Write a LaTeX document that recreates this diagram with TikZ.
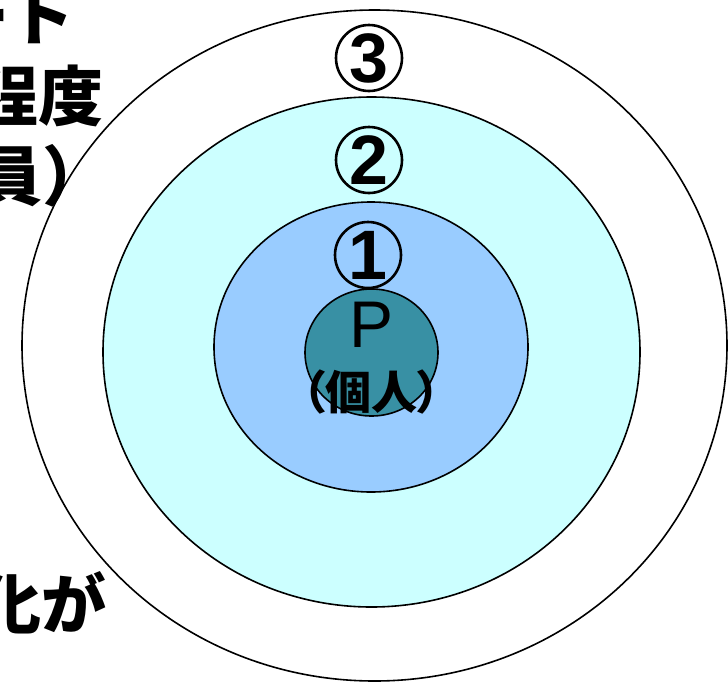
\documentclass[tikz,border=0pt]{standalone}
\usepackage{fontspec}
\setmainfont{Liberation Sans}
\newfontfamily\jp[RawFeature=+palt]{Noto Sans CJK JP}
\newfontfamily\jpfull{Noto Sans CJK JP}
\definecolor{ringcyan}{RGB}{204,255,255}
\definecolor{ringblue}{RGB}{153,204,255}
\definecolor{coreteal}{RGB}{56,144,164}
\tikzset{
  ring/.style={draw=black, line width=1.6pt},
  sidetext/.style={inner sep=0pt, anchor=base east, font=\jpfull\bfseries\fontsize{65}{70}\selectfont},
  numtext/.style={circle, draw=black, line width=2.6pt, minimum size=66pt, inner sep=0pt, anchor=center, font=\bfseries\fontsize{70}{70}\selectfont},
}
\begin{document}
\begin{tikzpicture}[x=1pt,y=-1pt]
\useasboundingbox (0,0) rectangle (728,686);
\fill[white] (0,0) rectangle (728,686);
% rings
\draw[ring, fill=white] (374.5,345.5) ellipse [x radius=352.5, y radius=335.5];
\draw[ring, fill=ringcyan] (371.5,352) ellipse [x radius=268.5, y radius=255];
\draw[ring, fill=ringblue] (371,347) ellipse [x radius=157, y radius=145];
\draw[ring, fill=coreteal] (371.5,352.5) ellipse [x radius=66.5, y radius=63.5];
% circled numbers
\node[numtext] (n3) at (369,58) {3};
\node[numtext] (n2) at (369,160) {2};
\node[numtext] (n1) at (368,255) {1};
% core text
\node[inner sep=0pt, anchor=base, font=\fontsize{66}{70}\selectfont] (p) at (372,347) {P};
\node[inner sep=0pt, anchor=base, font=\jp\bfseries\fontsize{46}{50}\selectfont] (ind) at (371,409) {（個人）};
% left side text (cut by the page edge)
\node[sidetext] (t1) at (75,40) {ート};
\node[sidetext] (t2) at (104,120) {程度};
\node[sidetext] (t3) at (108,200) {員）};
\node[sidetext] (t4) at (107,628) {化が};
\end{tikzpicture}
\end{document}
